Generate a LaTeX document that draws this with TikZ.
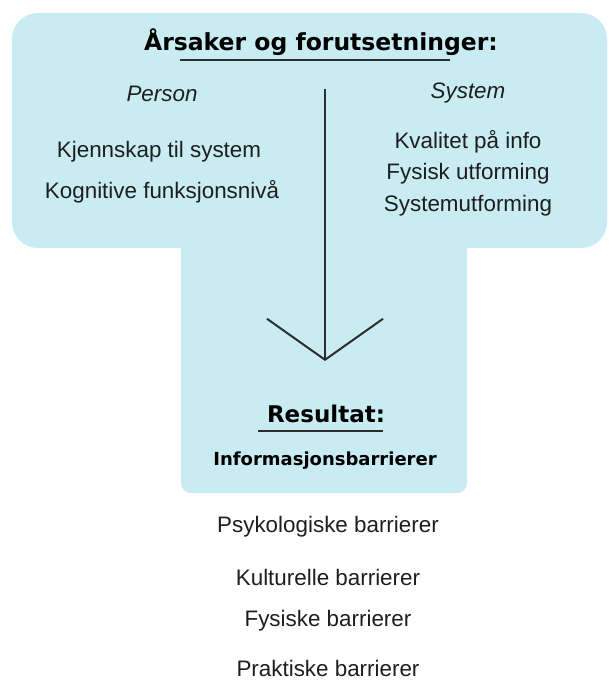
\documentclass[tikz,border=0pt]{standalone}
\usepackage{fontspec}
\setmainfont{Liberation Sans}
\newfontfamily\overskrift{DejaVu Sans}
\usetikzlibrary{arrows.meta}
\definecolor{boksblaa}{RGB}{200,236,242}
\definecolor{tekstgraa}{RGB}{30,30,30}
\definecolor{pilgraa}{RGB}{45,45,45}
\tikzset{
  punkt/.style={font=\fontsize{22.4}{26}\selectfont, text=tekstgraa, inner sep=0pt},
  kolonne/.style={font=\fontsize{22.4}{26}\selectfont\itshape, text=tekstgraa, inner sep=0pt},
  tittel/.style={font=\overskrift\bfseries\fontsize{23.5}{28}\selectfont, inner sep=0pt},
}
\begin{document}
\begin{tikzpicture}[x=1pt, y=-1pt]
    \useasboundingbox (0,0) rectangle (611,680);
    % Bakgrunn
    \fill[boksblaa, rounded corners=26pt] (12,13) rectangle (607,248);
    \fill[boksblaa, rounded corners=10pt] (181,200) rectangle (467,493);

    % Aarsaker
    \node[tittel] (aarsak) at (321,42) {Årsaker og forutsetninger:};
    \draw[line width=1.3pt, pilgraa] (180,60) -- (450,60);
    \node[kolonne] (person) at (162,94) {Person};
    \node[kolonne] (system) at (468,93) {System};

    % Person
    \node[punkt] (kjenn) at (159,152) {Kjennskap til system};
    \node[punkt] (kogn) at (162,192) {Kognitive funksjonsnivå};

    % System
    \foreach \y/\navn/\tekst in {142/kval/Kvalitet på info, 174/fys/Fysisk utforming, 206/sysut/Systemutforming}
        \node[punkt] (\navn) at (468,\y) {\tekst};

    % Pil
    \coordinate (pilstart) at (325,89);
    \coordinate (pilslutt) at (325,361);
    \draw[line width=2pt, pilgraa, -{Straight Barb[length=41pt, width=116pt, line width=2pt]}] (pilstart) -- (pilslutt);

    % Resultat
    \node[tittel, font=\overskrift\bfseries\fontsize{23}{28}\selectfont] (resultat) at (326,414) {Resultat:};
    \draw[line width=1.3pt, pilgraa] (258,431) -- (383,431);
    \node[tittel, font=\overskrift\bfseries\fontsize{18}{22}\selectfont] (info) at (325,461) {Informasjonsbarrierer};

    % Barrierer
    \foreach \y/\navn/\tekst in {527/psyk/Psykologiske barrierer, 577/kult/Kulturelle barrierer, 621/fysb/Fysiske barrierer, 668/prakt/Praktiske barrierer}
        \node[punkt] (\navn) at (328,\y) {\tekst};
\end{tikzpicture}
\end{document}
